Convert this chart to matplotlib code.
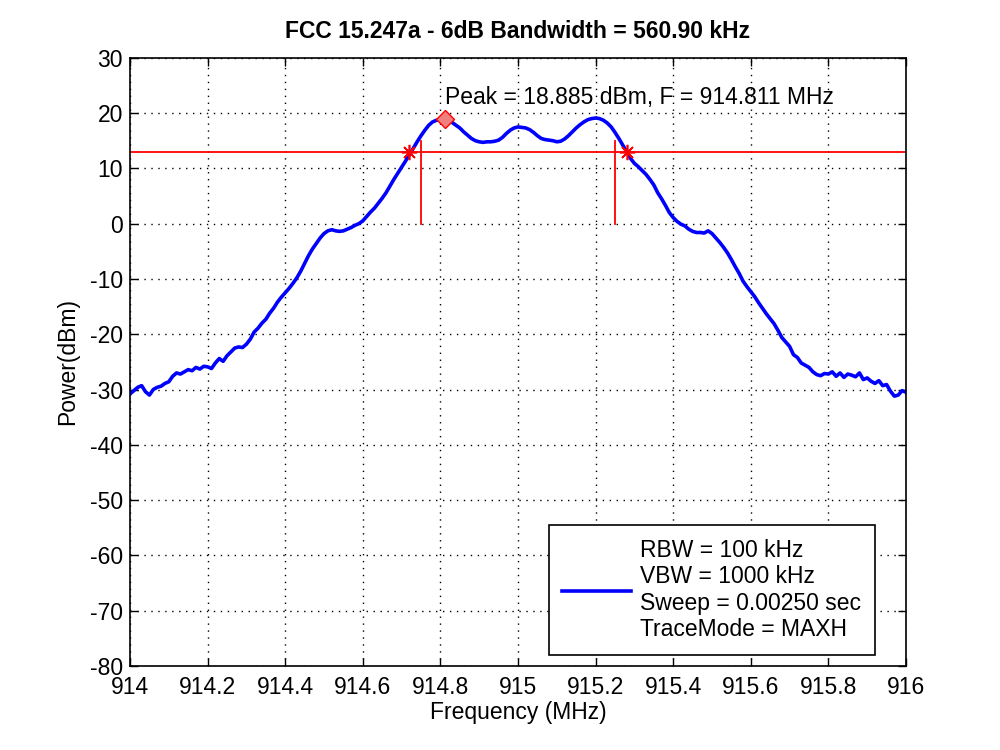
import numpy as np
import matplotlib
matplotlib.use('Agg')
import matplotlib.pyplot as plt

plt.rcParams['font.family'] = ['Liberation Sans', 'DejaVu Sans']
plt.rcParams['axes.unicode_minus'] = False

# 频谱扫描读数 (MHz, dBm)
freq_mhz = [
  914.00, 914.01, 914.02, 914.03, 914.04, 914.05, 914.06, 914.07, 914.08, 914.09,
  914.10, 914.11, 914.12, 914.13, 914.14, 914.15, 914.16, 914.17, 914.18, 914.19,
  914.20, 914.21, 914.22, 914.23, 914.24, 914.25, 914.26, 914.27, 914.28, 914.29,
  914.30, 914.31, 914.32, 914.33, 914.34, 914.35, 914.36, 914.37, 914.38, 914.39,
  914.40, 914.41, 914.42, 914.43, 914.44, 914.45, 914.46, 914.47, 914.48, 914.49,
  914.50, 914.51, 914.52, 914.53, 914.54, 914.55, 914.56, 914.57, 914.58, 914.59,
  914.60, 914.61, 914.62, 914.63, 914.64, 914.65, 914.66, 914.67, 914.68, 914.69,
  914.70, 914.71, 914.72, 914.73, 914.74, 914.75, 914.76, 914.77, 914.78, 914.79,
  914.80, 914.811, 914.82, 914.83, 914.84, 914.85, 914.86, 914.87, 914.88, 914.89,
  914.90, 914.91, 914.92, 914.93, 914.94, 914.95, 914.96, 914.97, 914.98, 914.99,
  915.00, 915.01, 915.02, 915.03, 915.04, 915.05, 915.06, 915.07, 915.08, 915.09,
  915.10, 915.11, 915.12, 915.13, 915.14, 915.15, 915.16, 915.17, 915.18, 915.19,
  915.20, 915.21, 915.22, 915.23, 915.24, 915.25, 915.26, 915.27, 915.28, 915.29,
  915.30, 915.31, 915.32, 915.33, 915.34, 915.35, 915.36, 915.37, 915.38, 915.39,
  915.40, 915.41, 915.42, 915.43, 915.44, 915.45, 915.46, 915.47, 915.48, 915.49,
  915.50, 915.51, 915.52, 915.53, 915.54, 915.55, 915.56, 915.57, 915.58, 915.59,
  915.60, 915.61, 915.62, 915.63, 915.64, 915.65, 915.66, 915.67, 915.68, 915.69,
  915.70, 915.71, 915.72, 915.73, 915.74, 915.75, 915.76, 915.77, 915.78, 915.79,
  915.80, 915.81, 915.82, 915.83, 915.84, 915.85, 915.86, 915.87, 915.88, 915.89,
  915.90, 915.91, 915.92, 915.93, 915.94, 915.95, 915.96, 915.97, 915.98, 915.99,
  916.00]
power_dbm = [
  -30.8, -30.2, -29.6, -29.3, -30.4, -31.0, -30.0, -29.6, -29.4, -28.9,
  -28.6, -27.6, -27.0, -27.2, -26.8, -26.4, -26.6, -26.0, -26.3, -25.8,
  -25.9, -26.2, -25.2, -24.4, -24.9, -23.9, -23.2, -22.5, -22.3, -22.4,
  -21.8, -20.9, -19.6, -18.9, -18.0, -17.3, -16.2, -15.3, -14.2, -13.3,
  -12.5, -11.7, -10.8, -9.8, -8.6, -7.2, -5.8, -4.6, -3.6, -2.6,
  -1.8, -1.3, -1.1, -1.3, -1.4, -1.3, -1.0, -0.7, -0.3, 0.0,
  0.5, 1.3, 2.1, 2.8, 3.7, 4.6, 5.6, 6.8, 8.0, 9.1,
  10.2, 11.3, 12.5, 13.6, 14.8, 15.9, 16.9, 17.8, 18.4, 18.7,
  18.8, 18.885, 18.7, 18.3, 17.8, 17.3, 16.6, 16.0, 15.4, 15.0,
  14.8, 14.7, 14.8, 14.8, 14.9, 15.1, 15.6, 16.3, 16.9, 17.3,
  17.5, 17.4, 17.3, 17.0, 16.5, 15.9, 15.4, 15.2, 15.1, 15.0,
  14.8, 14.9, 15.3, 15.9, 16.6, 17.3, 17.9, 18.4, 18.8, 19.0,
  19.1, 19.0, 18.7, 18.2, 17.5, 16.5, 15.4, 14.2, 13.0, 11.8,
  10.9, 10.3, 9.6, 8.9, 8.0, 7.0, 5.6, 4.5, 3.3, 2.0,
  1.1, 0.4, -0.1, -0.4, -1.0, -1.4, -1.6, -1.6, -1.7, -1.3,
  -1.8, -2.6, -3.4, -4.3, -5.3, -6.5, -7.8, -9.0, -10.4, -11.4,
  -12.3, -13.2, -14.3, -15.3, -16.3, -17.2, -18.1, -19.3, -20.6, -21.4,
  -22.2, -23.7, -24.2, -25.2, -25.6, -26.0, -26.8, -27.3, -27.5, -27.1,
  -27.2, -26.8, -27.6, -27.0, -27.8, -27.2, -27.4, -27.7, -27.0, -28.2,
  -27.9, -28.5, -28.9, -28.4, -29.3, -29.1, -30.3, -31.2, -31.0, -30.2,
  -30.5]

peak_f = 914.811
peak_p = 18.885
limit_p = peak_p - 6           # -6dB 线
edge_f = [914.720, 915.2809]   # -6dB 交点
mark_f = [914.75, 915.25]      # 竖线位置
mark_p = [0, 15]

legend_txt = 'RBW = 100 kHz\nVBW = 1000 kHz\nSweep = 0.00250 sec\nTraceMode = MAXH'

fs = 16.5
fig = plt.figure(figsize=(10, 7.5), dpi=100)
ax = fig.add_axes([0.13, 0.112, 0.776, 0.811])

ax.plot(freq_mhz, power_dbm, color='#0000ff', lw=2.6, label=legend_txt)
ax.axhline(limit_p, color='#ff0000', lw=1.3)
for f in mark_f:
  ax.plot([f, f], mark_p, color='#ff0000', lw=1.3)
ax.plot(edge_f, [limit_p, limit_p], ls='none', marker=(8, 2, 0), color='#ff0000', ms=11, mew=1.2)
ax.plot([peak_f], [peak_p], ls='none', marker='D', ms=9, mfc='#f08080', mec='#ff0000', mew=1)
ax.text(peak_f, 22.9, 'Peak = %.3f dBm, F = %.3f MHz' % (peak_p, peak_f),
        ha='left', va='center', fontsize=fs)

ax.set_xlim(914, 916)
ax.set_ylim(-80, 30)
ax.set_xticks([914, 914.2, 914.4, 914.6, 914.8, 915, 915.2, 915.4, 915.6, 915.8, 916])
ax.set_xticklabels(['914', '914.2', '914.4', '914.6', '914.8', '915', '915.2', '915.4', '915.6', '915.8', '916'])
ax.set_yticks(range(-80, 31, 10))
ax.grid(True, color='black', ls=(0, (1, 4)), lw=1.0)
ax.tick_params(direction='in', top=True, right=True, labelsize=fs, length=6, width=1, colors='black')
ax.tick_params(axis='x', pad=7)
ax.tick_params(axis='y', pad=5)
for s in ax.spines.values():
  s.set_linewidth(1.2)

ax.set_title('FCC 15.247a - 6dB Bandwidth = 560.90 kHz', fontsize=fs, fontweight='bold', pad=14)
ax.set_xlabel('Frequency (MHz)', fontsize=fs, labelpad=2)
ax.set_ylabel('Power(dBm)', fontsize=fs, labelpad=8)

leg = ax.legend(loc='lower right', bbox_to_anchor=(0.960, 0.018), fontsize=fs, fancybox=False,
                edgecolor='black', framealpha=1, handlelength=3, handletextpad=0.4,
                borderaxespad=0, labelspacing=0.1, borderpad=0.6)
leg.get_frame().set_linewidth(1.2)

plt.savefig('out.png')
